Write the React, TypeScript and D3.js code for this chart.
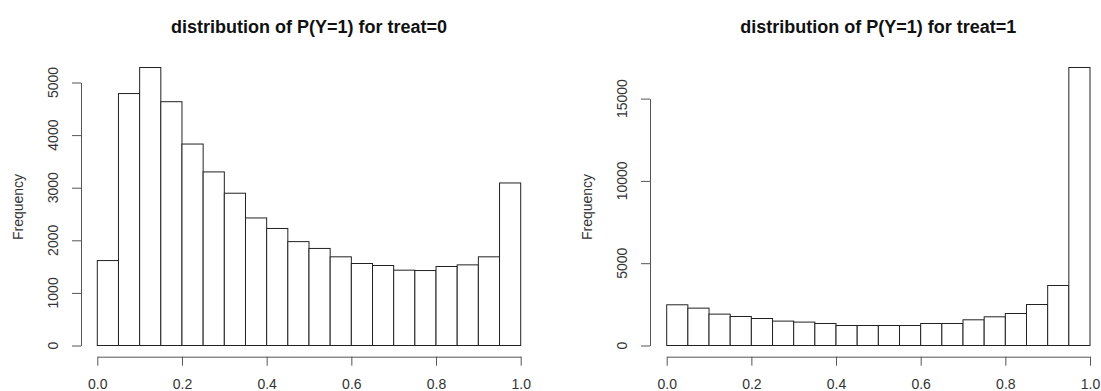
import React, { useRef, useEffect } from 'react';
import * as d3 from 'd3';

// histogram breaks (same for both panels)
const breaks = [0, 0.05, 0.1, 0.15, 0.2, 0.25, 0.3, 0.35, 0.4, 0.45, 0.5, 0.55, 0.6, 0.65, 0.7, 0.75, 0.8, 0.85, 0.9, 0.95, 1.0];

// bin counts
const countsTreat0 = [1615, 4790, 5285, 4635, 3830, 3300, 2895, 2425, 2225, 1975, 1845, 1686, 1559, 1521, 1432, 1425, 1502, 1533, 1686, 3090];
const countsTreat1 = [2473, 2270, 1906, 1762, 1640, 1482, 1422, 1337, 1215, 1215, 1215, 1215, 1337, 1337, 1561, 1743, 1944, 2491, 3645, 16890];

const xTicks = [0, 0.2, 0.4, 0.6, 0.8, 1.0];
const yTicksTreat0 = [0, 1000, 2000, 3000, 4000, 5000];
const yTicksTreat1 = [0, 5000, 10000, 15000];

const titles = ['distribution of P(Y=1) for treat=0', 'distribution of P(Y=1) for treat=1'];

const FONT = '"Liberation Sans", Arial, Helvetica, sans-serif';

const panels = [
  { counts: countsTreat0, yTicks: yTicksTreat0, title: titles[0], x0: 97.3, x1: 520.7, yTop: 82.5, yAxisX: 81 },
  { counts: countsTreat1, yTicks: yTicksTreat1, title: titles[1], x0: 666.7, x1: 1090, yTop: 98.6, yAxisX: 650 },
];

const App = () => {
  const ref = useRef<SVGSVGElement>(null);

  useEffect(() => {
    const svg = d3.select(ref.current);
    svg.selectAll('*').remove();

    const baseY = 345.5;
    const xAxisY = 356.7;
    const ylabY = 207; // R centres ylab on the plot region, not the data

    panels.forEach(p => {
      const g = svg.append('g');
      const yMaxTick = p.yTicks[p.yTicks.length - 1];

      const x = d3.scaleLinear().domain([0, 1]).range([p.x0, p.x1]);
      const y = d3.scaleLinear().domain([0, yMaxTick]).range([baseY, p.yTop]);

      // bars
      g.append('g')
        .selectAll('rect')
        .data(p.counts)
        .join('rect')
        .attr('x', (d, i) => x(breaks[i]))
        .attr('y', d => y(d))
        .attr('width', (d, i) => x(breaks[i + 1]) - x(breaks[i]))
        .attr('height', d => y(0) - y(d))
        .attr('fill', '#fff')
        .attr('stroke', '#222')
        .attr('stroke-width', 1);

      // x axis (R style, detached from the plot)
      const xa = g.append('g')
        .attr('transform', `translate(0,${xAxisY})`)
        .call(d3.axisBottom(x).tickValues(xTicks).tickFormat(d3.format('.1f')).tickSize(9).tickSizeOuter(0).tickPadding(13));
      xa.select('.domain').attr('stroke', '#555');
      xa.selectAll('.tick line').attr('stroke', '#555');
      xa.selectAll('text')
        .attr('fill', '#333')
        .style('font-family', FONT)
        .style('font-size', '14px');

      // y axis, labels rotated like R's default las=0
      const ya = g.append('g')
        .attr('transform', `translate(${p.yAxisX},0)`)
        .call(d3.axisLeft(y).tickValues(p.yTicks).tickFormat(() => '').tickSize(9).tickSizeOuter(0));
      ya.select('.domain').attr('stroke', '#555');
      ya.selectAll('.tick line').attr('stroke', '#555');

      g.append('g')
        .selectAll('text')
        .data(p.yTicks)
        .join('text')
        .attr('transform', d => `translate(${p.yAxisX - 23},${y(d)}) rotate(-90)`)
        .attr('text-anchor', 'middle')
        .attr('fill', '#333')
        .style('font-family', FONT)
        .style('font-size', '14px')
        .text(d => String(d));

      g.append('text')
        .attr('transform', `translate(${p.yAxisX - 58},${ylabY}) rotate(-90)`)
        .attr('text-anchor', 'middle')
        .attr('fill', '#333')
        .style('font-family', FONT)
        .style('font-size', '14px')
        .text('Frequency');

      g.append('text')
        .attr('x', (p.x0 + p.x1) / 2)
        .attr('y', 33)
        .attr('text-anchor', 'middle')
        .attr('fill', '#111')
        .style('font-family', FONT)
        .style('font-size', '18px')
        .style('font-weight', 'bold')
        .text(p.title);
    });
  }, []);

  return (
    <svg
      ref={ref}
      width={1101}
      height={391}
      style={{ position: 'absolute', left: 0, top: 0, background: '#fff' }}
    />
  );
};

export default App;
